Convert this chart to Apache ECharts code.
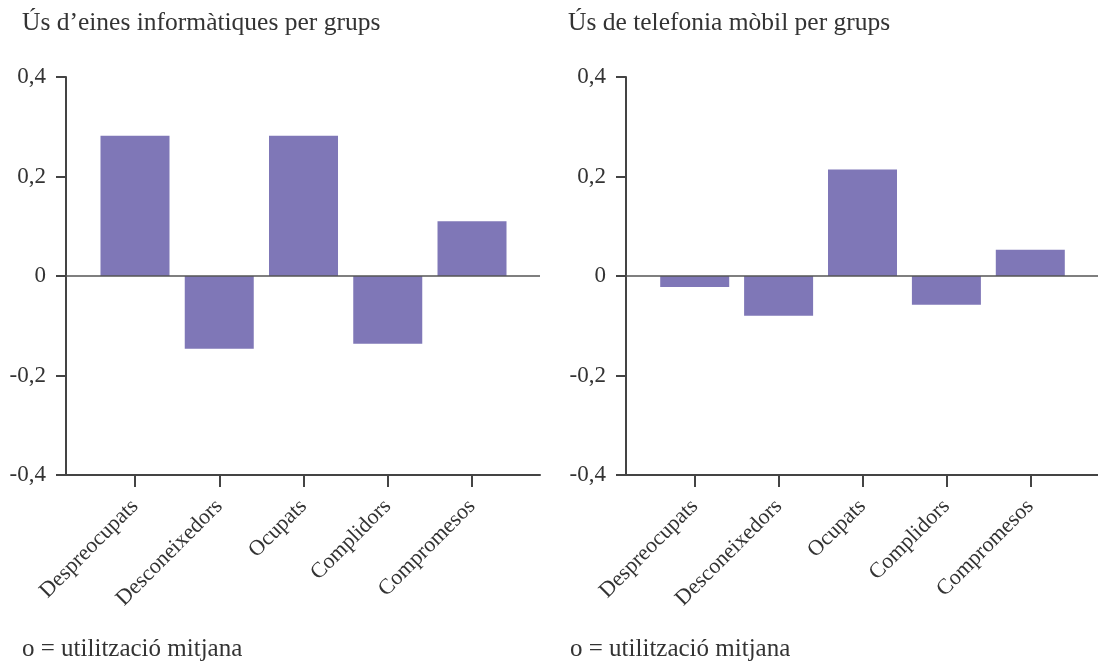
<!DOCTYPE html>
<html>
<head>
<meta charset="utf-8">
<script src="https://cdn.jsdelivr.net/npm/echarts@6/dist/echarts.min.js"></script>
<style>
  html, body { margin: 0; padding: 0; background: #fff; }
  #chart { width: 1098px; height: 668px; }
</style>
</head>
<body>
<div id="chart"></div>
<script>
const categories = ['Despreocupats', 'Desconeixedors', 'Ocupats', 'Complidors', 'Compromesos'];
const einesValues = [0.282, -0.146, 0.282, -0.136, 0.110];
const mobilValues = [-0.022, -0.080, 0.214, -0.058, 0.053];
const yTickValues = [-0.4, -0.2, 0, 0.2, 0.4];
const titles = ['Ús d\u2019eines informàtiques per grups', 'Ús de telefonia mòbil per grups'];
const noteText = 'o = utilització mitjana';

const FONT = 'Liberation Serif';
const TEXT = '#333';
const AXIS = '#444';
const BAR = '#7f77b7';

const catIdx = categories.map((_, i) => i);

function fmtY(v) {
  if (Math.abs(v) < 1e-9) return '0';
  return v.toFixed(1).replace('.', ',');
}

function xAxisFor(gridIndex) {
  return {
    gridIndex: gridIndex,
    type: 'value',
    min: -0.819,
    max: 4.807,
    position: 'bottom',
    axisLine: { show: true, onZero: false, lineStyle: { color: AXIS, width: 2 } },
    axisTick: { show: true, inside: false, length: 12, customValues: catIdx, lineStyle: { color: AXIS, width: 2 } },
    axisLabel: {
      show: true, customValues: catIdx, rotate: 45, margin: 28,
      fontFamily: FONT, fontSize: 22, color: TEXT,
      formatter: v => categories[Math.round(v)] || ''
    },
    splitLine: { show: false }
  };
}

function yAxisFor(gridIndex) {
  return {
    gridIndex: gridIndex,
    type: 'value',
    min: yTickValues[0],
    max: yTickValues[yTickValues.length - 1],
    interval: 0.2,
    axisLine: { show: true, onZero: false, lineStyle: { color: AXIS, width: 2 } },
    axisTick: { show: true, inside: false, length: 10, lineStyle: { color: AXIS, width: 2 } },
    axisLabel: { margin: 20, fontFamily: FONT, fontSize: 23, color: TEXT, formatter: fmtY },
    splitLine: { show: false }
  };
}

function barSeries(idx, values) {
  return {
    type: 'bar',
    xAxisIndex: idx,
    yAxisIndex: idx,
    barWidth: 69,
    itemStyle: { color: BAR },
    data: values.map((v, i) => [i, v]),
    markLine: {
      silent: true,
      symbol: ['none', 'none'],
      label: { show: false },
      lineStyle: { color: '#555', width: 1.5, type: 'solid' },
      data: [{ yAxis: 0 }],
      animation: false
    },
    animation: false
  };
}

const chart = echarts.init(document.getElementById('chart'), null, { renderer: 'canvas' });
chart.setOption({
  backgroundColor: '#fff',
  animation: false,
  title: [
    { text: titles[0], left: 22, top: 10, padding: 0, textStyle: { fontFamily: FONT, fontSize: 25.5, fontWeight: 'normal', color: TEXT } },
    { text: titles[1], left: 568, top: 10, padding: 0, textStyle: { fontFamily: FONT, fontSize: 25.5, fontWeight: 'normal', color: TEXT } },
    { text: noteText, left: 22, top: 637, padding: 0, textStyle: { fontFamily: FONT, fontSize: 25, fontWeight: 'normal', color: TEXT } },
    { text: noteText, left: 570, top: 637, padding: 0, textStyle: { fontFamily: FONT, fontSize: 25, fontWeight: 'normal', color: TEXT } }
  ],
  grid: [
    { left: 66, top: 77, width: 474, height: 398, containLabel: false },
    { left: 626, top: 77, width: 474, height: 398, containLabel: false }
  ],
  xAxis: [xAxisFor(0), xAxisFor(1)],
  yAxis: [yAxisFor(0), yAxisFor(1)],
  series: [barSeries(0, einesValues), barSeries(1, mobilValues)]
});
</script>
</body>
</html>
